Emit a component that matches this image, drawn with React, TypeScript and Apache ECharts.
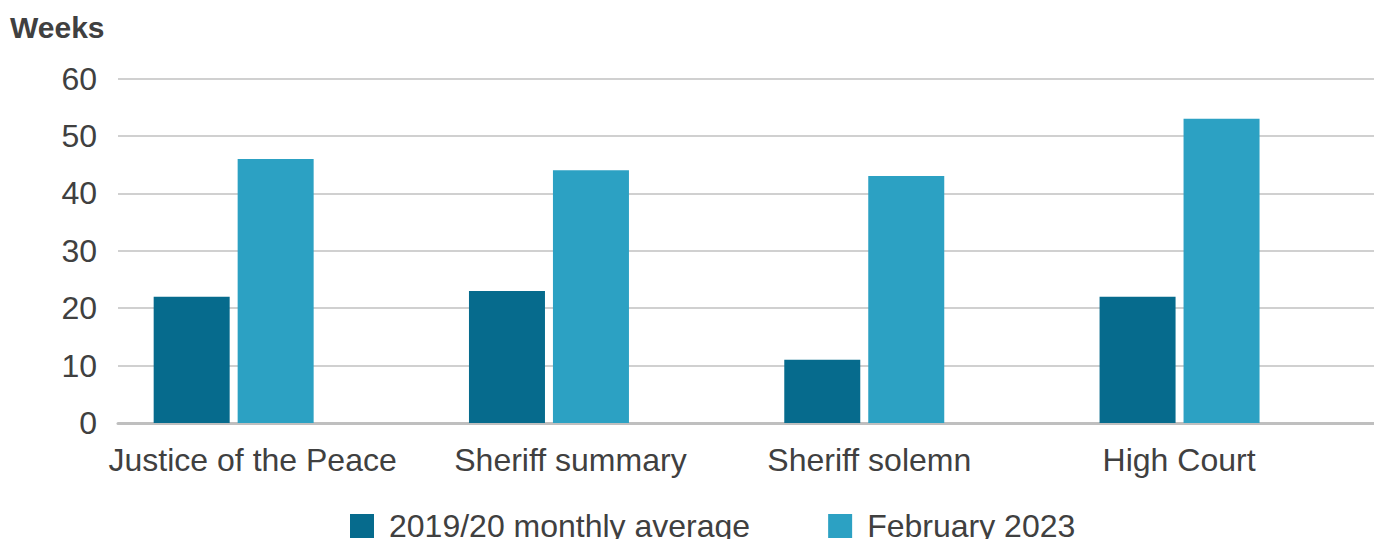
import React, { useEffect, useRef } from "react";
import * as echarts from "echarts";

const categories = ["Justice of the Peace", "Sheriff summary", "Sheriff solemn", "High Court"];
const seriesNames = ["2019/20 monthly average", "February 2023"];
const avg201920 = [22, 23, 11, 22];
const feb2023 = [46, 44, 43, 53];
const yTicks = [0, 10, 20, 30, 40, 50, 60];

const COLORS = ["#066b8d", "#2ca1c3"];
const TEXT = "#404040";
const FONT = "'Liberation Sans', Arial, Helvetica, sans-serif";

export default function App() {
  const ref = useRef<HTMLDivElement>(null);

  useEffect(() => {
    if (!ref.current) return;
    const chart = echarts.init(ref.current, undefined, { renderer: "svg" });
    const labelPads = [46, 41, 74, 85];
    const rich: Record<string, any> = {};
    labelPads.forEach((p, i) => {
      rich["c" + i] = {
        fontSize: 32,
        fontFamily: FONT,
        color: TEXT,
        padding: [0, p, 0, 0],
      };
    });
    chart.setOption({
      animation: false,
      title: {
        text: "Weeks",
        left: 10,
        top: 12,
        padding: 0,
        textStyle: { fontSize: 30, fontWeight: "bold", color: TEXT, fontFamily: FONT },
      },
      legend: {
        data: seriesNames,
        left: 350,
        top: 510,
        icon: "rect",
        itemWidth: 24,
        itemHeight: 24,
        itemGap: 78,
        padding: 0,
        textStyle: { fontSize: 32, color: TEXT, fontFamily: FONT, padding: [0, 0, 0, 10] },
      },
      grid: { left: 118, right: 0.8, top: 78.5, bottom: 116, containLabel: false },
      xAxis: {
        type: "category",
        data: categories,
        axisTick: { show: false },
        axisLine: { show: true, lineStyle: { color: "#bfbfbf", width: 3 } },
        axisLabel: {
          margin: 21,
          interval: 0,
          fontSize: 32,
          fontFamily: FONT,
          color: TEXT,
          formatter: (v: string, i: number) => `{c${i}|${v}}`,
          rich,
        },
      },
      yAxis: {
        type: "value",
        min: yTicks[0],
        max: yTicks[yTicks.length - 1],
        interval: 10,
        axisLine: { show: false },
        axisTick: { show: false },
        splitLine: { lineStyle: { color: "#c0c0c0", width: 1.5 } },
        axisLabel: { fontSize: 32, fontFamily: FONT, color: TEXT, margin: 21 },
      },
      series: [
        {
          name: seriesNames[0],
          type: "bar",
          data: avg201920,
          barWidth: 76,
          barGap: "10.5%",
          itemStyle: { color: COLORS[0] },
        },
        {
          name: seriesNames[1],
          type: "bar",
          data: feb2023,
          barWidth: 76,
          barGap: "10.5%",
          itemStyle: { color: COLORS[1] },
        },
        {
          name: "spacer",
          type: "bar",
          data: categories.map(() => null),
          barWidth: 76,
          barGap: "10.5%",
          itemStyle: { color: "transparent" },
        },
      ],
    });
    return () => chart.dispose();
  }, []);

  return (
    <div style={{ position: "fixed", left: 0, top: 0, width: 1374, height: 539, background: "#fff", overflow: "hidden" }}>
      <div ref={ref} style={{ width: 1380, height: 539 }} />
    </div>
  );
}
